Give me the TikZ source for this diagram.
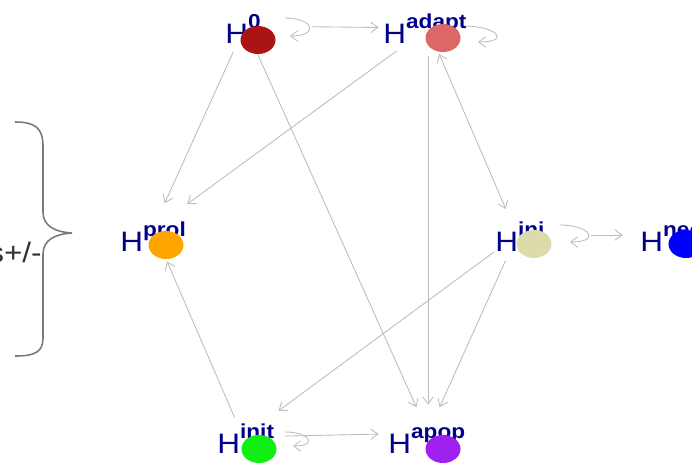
\documentclass[tikz,border=0pt]{standalone}
\usepackage{fontspec}
\setmainfont{Liberation Sans}
\usetikzlibrary{arrows.meta,shapes.geometric}
\definecolor{labblue}{HTML}{00008B}
\definecolor{linkgray}{HTML}{BDBDBD}
\definecolor{bracegray}{HTML}{7A7A7A}
\definecolor{czero}{HTML}{AA1414}
\definecolor{cadapt}{HTML}{DD6666}
\definecolor{cprol}{HTML}{FFA500}
\definecolor{cini}{HTML}{DCDCAA}
\definecolor{cnec}{HTML}{0000FF}
\definecolor{cinit}{HTML}{11EE11}
\definecolor{capop}{HTML}{A020F0}
\newcommand{\hname}[1]{\scalebox{1.12}[1]{\fontsize{16}{19}\selectfont H\raisebox{8.5pt}{\fontsize{11.5}{13}\selectfont\bfseries #1}}}
\begin{document}
\begin{tikzpicture}[x=0.02cm,y=-0.02cm,>={Straight Barb[length=4pt,width=6pt]},
	vtx/.style={circle,minimum size=1.12cm,inner sep=0pt},
	hdot/.style={ellipse,minimum width=0.7cm,minimum height=0.56cm,inner sep=0pt},
	lab/.style={anchor=base west,inner sep=0pt,text=labblue},
	link/.style={draw=linkgray,line width=0.5pt,->},
	selfloop/.style={link,out=0,in=0,looseness=4}]
	\useasboundingbox (0,0) rectangle (692,464);
	\node[vtx] (h0) at (245,26) {};
	\node[vtx] (hadapt) at (428,28) {};
	\node[vtx] (hprol) at (153,229) {};
	\node[vtx] (hini) at (517,235) {};
	\node[vtx] (hnec) at (665,235) {};
	\node[vtx] (hinit) at (243,437) {};
	\node[vtx] (hapop) at (428,433) {};
	\path[link,shorten <=22pt,shorten >=12pt] (h0) -- (hadapt);
	\path[link] (h0) -- (hprol);
	\path[link] (h0) -- (hapop);
	\path[link,shorten <=6pt,shorten >=8pt] (hadapt) -- (hprol);
	\path[link] (hadapt) -- (hapop);
	\path[link,<->] (hadapt) -- (hini);
	\path[link,shorten >=9pt] (hini) -- (hinit);
	\path[link] (hini) -- (hapop);
	\path[link,shorten <=26pt,shorten >=8pt] (hini) -- (hnec);
	\path[link,shorten <=-4pt,shorten >=4pt] (hinit) -- (hprol);
	\path[link,shorten <=8pt,shorten >=12pt] (hinit) -- (hapop);
	\draw[selfloop] ([shift={(40,-8)}]h0.center) to ([shift={(45,10)}]h0.center);
	\draw[selfloop] ([shift={(36,-2)}]hadapt.center) to ([shift={(50,14)}]hadapt.center);
	\draw[selfloop] ([shift={(43,-10)}]hini.center) to ([shift={(53,7)}]hini.center);
	\draw[selfloop] ([shift={(42,-5)}]hinit.center) to ([shift={(50,9)}]hinit.center);
	\node[lab] (h0lab) at (225,43) {\hname{0}};
	\node[lab] (hadaptlab) at (383,43) {\hname{adapt}};
	\node[lab] (hprollab) at (120,251) {\hname{prol}};
	\node[lab] (hinilab) at (495,251) {\hname{ini}};
	\node[lab] (hneclab) at (640,251) {\hname{nec}};
	\node[lab] (hinitlab) at (217,453) {\hname{init}};
	\node[lab] (hapoplab) at (388,453) {\hname{apop}};
	\node[hdot,fill=czero] (h0dot) at (258,40) {};
	\node[hdot,fill=cadapt] (hadaptdot) at (443,38) {};
	\node[hdot,fill=cprol] (hproldot) at (166,245) {};
	\node[hdot,fill=cini] (hinidot) at (534,244) {};
	\node[hdot,fill=cnec] (hnecdot) at (686,244) {};
	\node[hdot,fill=cinit] (hinitdot) at (259,449) {};
	\node[hdot,fill=capop] (hapopdot) at (443,449) {};
	\draw[bracegray,line width=0.9pt] (15,122) .. controls (35,122) and (43,128) .. (43,146) -- (43,212)
		.. controls (43,226) and (55,232) .. (72,233) .. controls (55,234) and (43,240) .. (43,254)
		-- (43,338) .. controls (43,352) and (35,356) .. (15,356);
	\node[anchor=base east,inner sep=0pt,text=black!80] (signs) at (42,262) {\scalebox{1.12}[1]{\fontsize{16}{19}\selectfont s+/-}};
\end{tikzpicture}
\end{document}
